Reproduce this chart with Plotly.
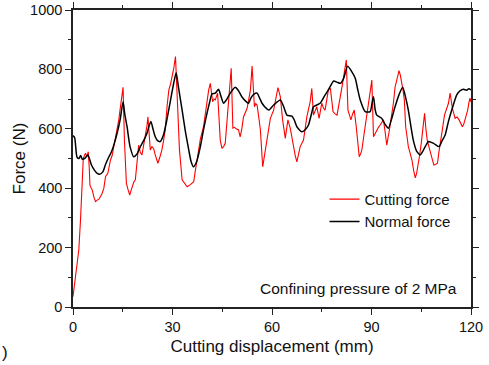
import plotly.graph_objects as go

# Cutting force (red) - displacement (mm), force (N)
cut_x = [0, 0.5, 1.05, 1.75, 2.26, 2.77, 3.1, 3.5, 3.8, 4.2, 4.6, 4.9, 5.1, 5.5, 5.8, 6.3, 6.8, 7.3, 7.8, 8.3,
         8.8, 9.3, 9.8, 10.5, 11.3, 11.8, 12.3, 12.8, 13.3, 13.8, 14.3, 14.7, 15.1, 15.5, 16.1, 16.6, 17.1, 17.5,
         17.8, 18.3, 18.8, 19.3, 19.8, 20.3, 20.8, 21.3, 21.8, 22.3, 22.6, 23.0, 23.3, 23.8, 24.3, 24.8, 25.2,
         25.6, 26.2, 26.8, 27.3, 27.8, 28.4, 28.9, 29.4, 29.9, 30.4, 30.9, 31.4, 32.1, 32.9, 33.6, 34.4, 35.4,
         36.4, 36.9, 37.4, 37.9, 38.4, 39.4, 40.4, 40.9, 41.4, 42.1, 42.5, 42.9, 43.6, 44.0, 44.4, 44.9, 45.4,
         45.9, 46.6, 47.2, 47.7, 48.2, 48.7, 49.2, 49.9, 50.4, 50.9, 51.4, 52.0, 52.5, 53.0, 53.5, 54.0, 54.7,
         55.1, 55.5, 56.0, 56.5, 57.2, 57.6, 58.0, 58.8, 59.5, 60.5, 61.2, 61.8, 62.5, 63.2, 64.0, 64.8, 65.5,
         66.0, 66.5, 67.0, 67.5, 68.0, 68.5, 69.5, 70.5, 71.5, 72.0, 72.5, 73.0, 73.5, 74.2, 75.0, 75.5, 76.0,
         77.0, 77.6, 78.4, 79.0, 79.6, 80.1, 80.6, 81.1, 81.6, 82.0, 82.4, 82.9, 83.4, 83.8, 84.3, 84.8, 85.4,
         86.3, 86.7, 87.1, 87.6, 88.1, 89.1, 90.1, 90.6, 91.1, 91.6, 92.1, 92.6, 93.1, 93.6, 94.1, 94.6, 95.4,
         96.0, 96.6, 97.1, 97.6, 98.3, 98.7, 99.1, 99.5, 99.9, 100.3, 100.7, 101.1, 101.6, 102.2, 102.7, 103.2,
         103.6, 104.0, 104.5, 105.0, 105.5, 106.0, 106.4, 106.8, 107.3, 107.8, 108.3, 108.8, 109.3, 109.9,
         110.3, 110.8, 111.4, 112.0, 112.6, 113.2, 113.7, 114.0, 114.4, 115.2, 115.8, 116.4, 116.9, 117.4,
         117.8, 118.2, 118.6, 119.0, 119.4, 119.7, 120.0]
cut_y = [35, 80, 125, 192, 293, 394, 500, 512, 518, 505, 523, 470, 410, 400, 394, 370, 355, 360, 363, 372,
         383, 400, 439, 450, 495, 510, 540, 560, 596, 630, 674, 710, 740, 562, 416, 395, 377, 392,
         405, 420, 428, 490, 545, 520, 512, 545, 573, 610, 640, 580, 529, 540, 534, 512, 500,
         484, 505, 529, 560, 596, 680, 731, 750, 775, 805, 843, 731, 529, 428, 415, 405, 412,
         422, 460, 495, 530, 565, 610, 703, 730, 753, 691, 700, 697, 720, 640, 562, 534, 540,
         551, 652, 730, 804, 602, 605, 600, 596, 573, 600, 640, 655, 669, 700, 731, 811, 674,
         685, 680, 640, 596, 472, 500, 529, 596, 635, 663, 700, 739, 708, 630, 568, 630, 602,
         570, 540, 510, 489, 515, 540, 562, 640, 691, 736, 646, 660, 674, 635, 686, 670, 663,
         731, 736, 658, 650, 646, 675, 703, 740, 775, 805, 832, 663, 645, 630, 650, 663, 607,
         506, 515, 529, 570, 607, 674, 764, 573, 585, 596, 605, 613, 620, 630, 590, 545, 596,
         640, 686, 740, 764, 796, 780, 759, 730, 697, 607, 575, 540, 520, 495, 460, 435,
         450, 472, 510, 551, 600, 652, 600, 562, 540, 517, 495, 478, 480, 484,
         520, 551, 600, 646, 665, 686, 720, 690, 669, 635, 640, 630, 620, 607,
         615, 630, 645, 663, 690, 703, 690]

# Normal force (black)
norm_x = [0, 0.5, 1.2, 1.8, 2.3, 2.8, 3.5, 4.5, 5.5, 6.5, 7.3, 8.0, 9.0, 9.8, 10.8, 11.5, 12.3, 13.3, 14.2,
          15.1, 15.6, 16.3, 17.2, 18.3, 19.3, 20.3, 21.3, 22.3, 23.0, 23.5, 24.1, 24.8, 25.5, 26.3, 27.3,
          28.3, 29.3, 30.3, 31.1, 31.8, 32.9, 33.9, 34.9, 35.6, 36.3, 37.3, 38.4, 39.4, 40.4, 41.2, 41.9,
          42.9, 43.9, 44.6, 45.4, 46.4, 47.4, 48.9, 49.8, 50.9, 51.9, 52.9, 53.7, 54.5, 55.5, 56.2, 57.0,
          58.0, 59.0, 60.5, 62.5, 63.5, 64.5, 66.0, 66.7, 67.5, 69.0, 70.0, 71.0, 72.0, 72.5, 74.5, 75.8,
          77.0, 78.6, 79.6, 80.6, 81.6, 82.8, 83.9, 85.1, 85.8, 86.6, 88.1, 89.6, 90.2, 90.6, 91.1, 91.6,
          93.1, 94.1, 95.1, 96.1, 97.1, 98.3, 99.4, 100.3, 101.1, 102.0, 102.6, 103.6, 104.7, 105.5, 106.2,
          107.2, 108.7, 110.4, 111.3, 112.2, 113.2, 114.2, 115.7, 116.7, 117.7, 118.7, 119.3, 120.0]
norm_y = [577, 570, 505, 500, 510, 498, 500, 512, 480, 460, 450, 447, 455, 480, 505, 520, 545, 585, 630,
          691, 650, 607, 540, 506, 515, 540, 560, 585, 612, 625, 600, 573, 560, 557, 580,
          630, 690, 750, 789, 740, 663, 590, 529, 490, 472, 490, 540, 600, 652, 690, 717,
          720, 733, 710, 686, 700, 720, 740, 730, 708, 695, 686, 705, 716, 720, 705, 686,
          672, 663, 680, 697, 675, 646, 643, 630, 607, 590, 597, 613, 655, 674, 686, 710,
          731, 761, 757, 753, 770, 811, 795, 770, 735, 697, 658, 658, 690, 708, 665, 646,
          635, 615, 602, 635, 674, 715, 740, 705, 663, 600, 562, 525, 512, 525, 540,
          557, 551, 540, 560, 579, 625, 663, 714, 728, 733, 730, 735, 731]

x_ticks = [0, 30, 60, 90, 120]
y_ticks = [0, 200, 400, 600, 800, 1000]

FONT = "Liberation Sans, Arial, sans-serif"

fig = go.Figure()
fig.add_trace(go.Scatter(x=cut_x, y=cut_y, mode="lines", name="Cutting force",
                         line=dict(color="#ff0000", width=1.1)))
fig.add_trace(go.Scatter(x=norm_x, y=norm_y, mode="lines", name="Normal force",
                         line=dict(color="#000000", width=1.5, shape="spline", smoothing=0.6)))

axis_common = dict(showline=True, linecolor="#222", linewidth=1.5, mirror="ticks",
                   ticks="outside", ticklen=6, tickwidth=1.2, tickcolor="#222",
                   showgrid=False, zeroline=False,
                   tickfont=dict(family=FONT, size=14.5, color="#111"))

fig.update_xaxes(range=[0, 120], tickvals=x_ticks, ticktext=[str(v) for v in x_ticks],
                 minor=dict(dtick=15, ticklen=3, tickcolor="#222", ticks="outside", tick0=0),
                 title=dict(text="Cutting displacement (mm)", font=dict(family=FONT, size=17, color="#111"),
                            standoff=6),
                 **axis_common)
fig.update_yaxes(range=[0, 1000], tickvals=y_ticks, ticktext=[str(v) for v in y_ticks],
                 minor=dict(dtick=100, ticklen=3, tickcolor="#222", ticks="outside", tick0=0),
                 title=dict(text="Force (N)", font=dict(family=FONT, size=17, color="#111"),
                            standoff=0),
                 **axis_common)

fig.update_layout(
    width=489, height=365,
    margin=dict(l=72.5, r=18, t=10, b=58, autoexpand=False),
    plot_bgcolor="white", paper_bgcolor="white",
    showlegend=True,
    legend=dict(x=0.632, y=0.418, xanchor="left", yanchor="top",
                font=dict(family=FONT, size=15, color="#111"),
                bgcolor="rgba(0,0,0,0)", itemwidth=30, tracegroupgap=0),
    annotations=[
        dict(text="Confining pressure of 2 MPa", x=0.971, y=0.063, xref="paper", yref="paper",
             xanchor="right", yanchor="middle", showarrow=False,
             font=dict(family=FONT, size=15.5, color="#111")),
        dict(text=")", x=-0.172, y=-0.152, xref="paper", yref="paper",
             xanchor="center", yanchor="middle", showarrow=False,
             font=dict(family=FONT, size=17, color="#111")),
    ],
)

fig.write_html("out.html")
